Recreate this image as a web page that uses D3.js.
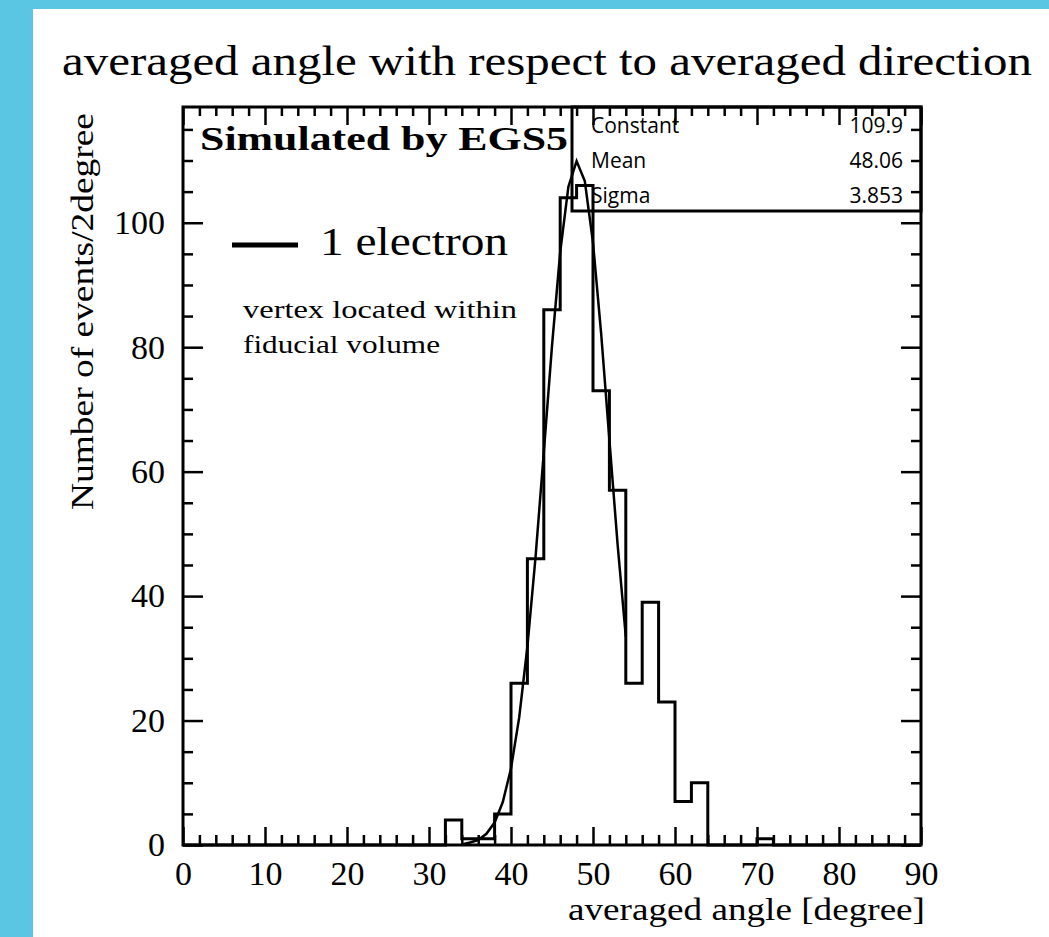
<!DOCTYPE html>
<html lang="en">
<head>
<meta charset="UTF-8">
<title>averaged angle</title>
<script src="https://cdn.jsdelivr.net/npm/d3@7"></script>
<style>
  body { margin: 0; background: #5bc6e4; }
  svg { display: block; }
  .serif { font-family: "Liberation Serif", "DejaVu Serif", serif; fill: #000; }
  .sans { font-family: "Open Sans", "DejaVu Sans", sans-serif; fill: #000; }
</style>
</head>
<body>
<svg id="chart" width="1049" height="937"></svg>
<script>
// histogram: 45 bins of 2 degrees from 0 to 90
const binWidth = 2
const counts = [
  0, 0, 0, 0, 0, 0, 0, 0, 0, 0,
  0, 0, 0, 0, 0, 0, 4, 1, 1, 5,
  26, 46, 86, 104, 106, 73, 57, 26, 39, 23,
  7, 10, 0, 0, 0, 1, 0, 0, 0, 0,
  0, 0, 0, 0, 0
]
// gaussian fit curve
const fitX = [34, 35, 36, 37, 38, 39, 40, 41, 42, 43, 44, 45, 46, 47, 48, 49, 50, 51, 52, 53, 54]
const fitY = [0.1, 0.4, 0.8, 1.8, 3.6, 6.9, 12.3, 20.5, 31.9, 46.4, 63.1, 80.2, 95.3, 105.8, 109.9, 106.7, 96.8, 82.1, 65.1, 48.3, 33.5]

const xTicks = [0, 10, 20, 30, 40, 50, 60, 70, 80, 90]
const yTicks = [0, 20, 40, 60, 80, 100]
const statNames = ["Constant", "Mean", "Sigma"]
const statValues = ["109.9", "48.06", "3.853"]

const svg = d3.select("#chart")

// white panel inside blue border
svg.append("rect").attr("x", 33).attr("y", 9).attr("width", 1016).attr("height", 928).attr("fill", "#fff")

const x = d3.scaleLinear().domain([0, 90]).range([183, 921])
const y = d3.scaleLinear().domain([0, 118.6]).range([845, 107])

const minorX = d3.range(0, 91, 2).filter(d => d % 10 != 0)
const minorY = d3.range(0, 118, 5).filter(d => d % 20 != 0)

function styleAxis(g) {
  g.select(".domain").remove()
  g.selectAll("line").attr("stroke", "#000").attr("stroke-width", 2.5)
  g.selectAll("text").attr("class", "serif").attr("font-size", 34).attr("fill", "#000")
}

// bottom
svg.append("g").attr("transform", "translate(0,845)")
  .call(d3.axisBottom(x).tickValues(xTicks).tickSize(-18).tickPadding(16).tickFormat(d3.format("d")))
  .call(styleAxis)
svg.append("g").attr("transform", "translate(0,845)")
  .call(d3.axisBottom(x).tickValues(minorX).tickSize(-10).tickFormat(""))
  .call(styleAxis)
// top
svg.append("g").attr("transform", "translate(0,107)")
  .call(d3.axisTop(x).tickValues(xTicks).tickSize(-18).tickFormat(""))
  .call(styleAxis)
svg.append("g").attr("transform", "translate(0,107)")
  .call(d3.axisTop(x).tickValues(minorX).tickSize(-9).tickFormat(""))
  .call(styleAxis)
// left
svg.append("g").attr("transform", "translate(183,0)")
  .call(d3.axisLeft(y).tickValues(yTicks).tickSize(-20).tickPadding(18).tickFormat(d3.format("d")))
  .call(styleAxis)
svg.append("g").attr("transform", "translate(183,0)")
  .call(d3.axisLeft(y).tickValues(minorY).tickSize(-10).tickFormat(""))
  .call(styleAxis)
// right
svg.append("g").attr("transform", "translate(921,0)")
  .call(d3.axisRight(y).tickValues(yTicks).tickSize(-20).tickFormat(""))
  .call(styleAxis)
svg.append("g").attr("transform", "translate(921,0)")
  .call(d3.axisRight(y).tickValues(minorY).tickSize(-10).tickFormat(""))
  .call(styleAxis)

// frame
svg.append("rect").attr("x", 183).attr("y", 107).attr("width", 738).attr("height", 738)
  .attr("fill", "none").attr("stroke", "#000").attr("stroke-width", 3)

// histogram outline
let pts = [[0, 0]]
counts.forEach((c, i) => pts.push([i * binWidth, c]))
pts.push([90, counts[counts.length - 1]])
pts.push([90, 0])
let step = d3.line().x(d => x(d[0])).y(d => y(d[1])).curve(d3.curveStepAfter)
svg.append("path").attr("d", step(pts))
  .attr("fill", "none").attr("stroke", "#000").attr("stroke-width", 3)

// fit
let fit = d3.line().x(d => x(d[0])).y(d => y(d[1]))
svg.append("path").attr("d", fit(fitX.map((v, i) => [v, fitY[i]])))
  .attr("fill", "none").attr("stroke", "#000").attr("stroke-width", 2.5)

// stats box
svg.append("rect").attr("x", 572).attr("y", 107).attr("width", 349).attr("height", 104)
  .attr("fill", "none").attr("stroke", "#000").attr("stroke-width", 3)
statNames.forEach((n, i) => {
  svg.append("text").attr("class", "sans").attr("font-size", 21)
    .attr("x", 591).attr("y", 133 + i * 35).text(n)
  svg.append("text").attr("class", "sans").attr("font-size", 21).attr("text-anchor", "end")
    .attr("x", 903).attr("y", 133 + i * 35).text(statValues[i])
})

// texts
svg.append("text").attr("class", "serif").attr("font-size", 42)
  .attr("x", 62).attr("y", 75).attr("textLength", 970).attr("lengthAdjust", "spacingAndGlyphs")
  .text("averaged angle with respect to averaged direction")

svg.append("text").attr("class", "serif").attr("font-size", 34).attr("font-weight", "bold")
  .attr("x", 200).attr("y", 150).attr("textLength", 368).attr("lengthAdjust", "spacingAndGlyphs")
  .text("Simulated by EGS5")

svg.append("line").attr("x1", 232).attr("x2", 298).attr("y1", 245).attr("y2", 245)
  .attr("stroke", "#000").attr("stroke-width", 5)
svg.append("text").attr("class", "serif").attr("font-size", 40)
  .attr("x", 320).attr("y", 255).attr("textLength", 188).attr("lengthAdjust", "spacingAndGlyphs")
  .text("1 electron")

svg.append("text").attr("class", "serif").attr("font-size", 25)
  .attr("x", 243).attr("y", 318).attr("textLength", 274).attr("lengthAdjust", "spacingAndGlyphs")
  .text("vertex located within")
svg.append("text").attr("class", "serif").attr("font-size", 25)
  .attr("x", 243).attr("y", 353).attr("textLength", 197).attr("lengthAdjust", "spacingAndGlyphs")
  .text("fiducial volume")

svg.append("text").attr("class", "serif").attr("font-size", 31)
  .attr("transform", "translate(93,510) rotate(-90)")
  .attr("textLength", 397).attr("lengthAdjust", "spacingAndGlyphs")
  .text("Number of events/2degree")

svg.append("text").attr("class", "serif").attr("font-size", 32)
  .attr("x", 568).attr("y", 920).attr("textLength", 357).attr("lengthAdjust", "spacingAndGlyphs")
  .text("averaged angle [degree]")
</script>
</body>
</html>
